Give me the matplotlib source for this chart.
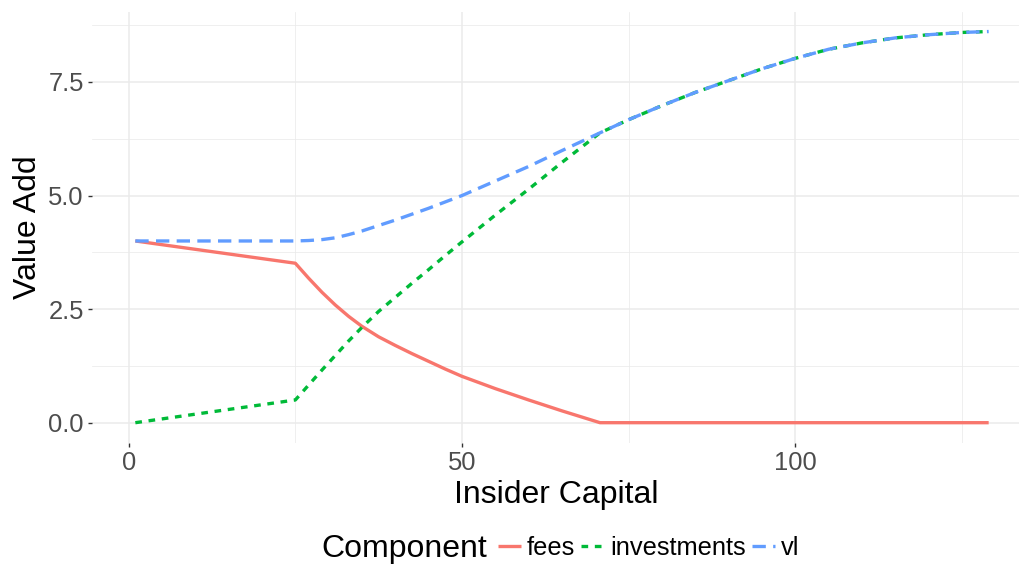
import matplotlib
matplotlib.use('Agg')
import matplotlib.pyplot as plt

# valeurs
capital = [1, 25, 27, 29, 31, 33, 35, 37.5, 40, 42.5, 45, 47.5, 50, 55, 60, 65, 70.7,
           75, 80, 85, 90, 95, 100, 105, 110, 115, 120, 125, 129]
fees = [4.00, 3.51, 3.18, 2.87, 2.59, 2.34, 2.12, 1.89, 1.70, 1.52, 1.35, 1.18, 1.02,
        0.75, 0.50, 0.26, 0.00,
        0, 0, 0, 0, 0, 0, 0, 0, 0, 0, 0, 0]
investments = [0.00, 0.50, 0.83, 1.16, 1.48, 1.80, 2.10, 2.45, 2.76, 3.07, 3.37, 3.68, 3.98,
               4.57, 5.14, 5.73, 6.38,
               6.67, 6.98, 7.27, 7.53, 7.79, 8.02, 8.22, 8.36, 8.47, 8.54, 8.59, 8.61]
vl = [4.00, 4.00, 4.01, 4.03, 4.07, 4.14, 4.22, 4.34, 4.46, 4.59, 4.72, 4.86, 5.00,
      5.32, 5.64, 5.99, 6.38,
      6.67, 6.98, 7.27, 7.53, 7.79, 8.02, 8.22, 8.36, 8.47, 8.54, 8.59, 8.61]

components = ['fees', 'investments', 'vl']
colors = ['#F8766D', '#00BA38', '#619CFF']
x_ticks = [0, 50, 100]
y_ticks = [0.0, 2.5, 5.0, 7.5]

plt.rcParams['font.family'] = ['Liberation Sans', 'DejaVu Sans']

W, H = 1020, 567
fig = plt.figure(figsize=(W / 100, H / 100), dpi=100)
ax = fig.add_axes([92 / W, 1 - 443 / H, (W - 92) / W, 431 / H])

lw = 2.4
styles = ['-', (0, (2, 2)), (0, (4, 2.2))]
series = [fees, investments, vl]
lines = []
for name, vals, col, ls in zip(components, series, colors, styles):
    line, = ax.plot(capital, vals, color=col, lw=lw, linestyle=ls,
                    solid_capstyle='butt', dash_capstyle='butt', label=name)
    lines.append(line)

ax.set_xlim(-5.5, 133.7)
ax.set_ylim(-0.447, 9.04)
ax.set_xticks(x_ticks)
ax.set_xticklabels([str(t) for t in x_ticks])
ax.set_yticks(y_ticks)
ax.set_yticklabels(['%.1f' % t for t in y_ticks])
ax.set_xticks([25, 75, 125], minor=True)
ax.set_yticks([1.25, 3.75, 6.25, 8.75], minor=True)

# style theme_minimal
for s in ax.spines.values():
    s.set_visible(False)
ax.set_axisbelow(True)
ax.grid(which='major', color='#EBEBEB', lw=1.1)
ax.grid(which='minor', color='#EBEBEB', lw=0.55)
ax.tick_params(which='major', length=3, width=1, color='#333333',
               labelcolor='#4D4D4D', labelsize=18.4, pad=3)
ax.tick_params(which='minor', length=0)

ax.set_xlabel('Insider Capital', fontsize=23, labelpad=3)
ax.set_ylabel('Value Add', fontsize=23, labelpad=4)

# légende en bas, titre à gauche des clés
fig.text(487 / W, 1 - 549 / H, 'Component', fontsize=23, ha='right', va='center')
fig.legend(handles=lines, loc='center left', bbox_to_anchor=(498 / W, 1 - 548 / H),
           ncol=3, frameon=False, fontsize=18.4, handlelength=0.9,
           handletextpad=0.22, columnspacing=0.25, borderpad=0, borderaxespad=0)

fig.savefig('out.png', dpi=100)
